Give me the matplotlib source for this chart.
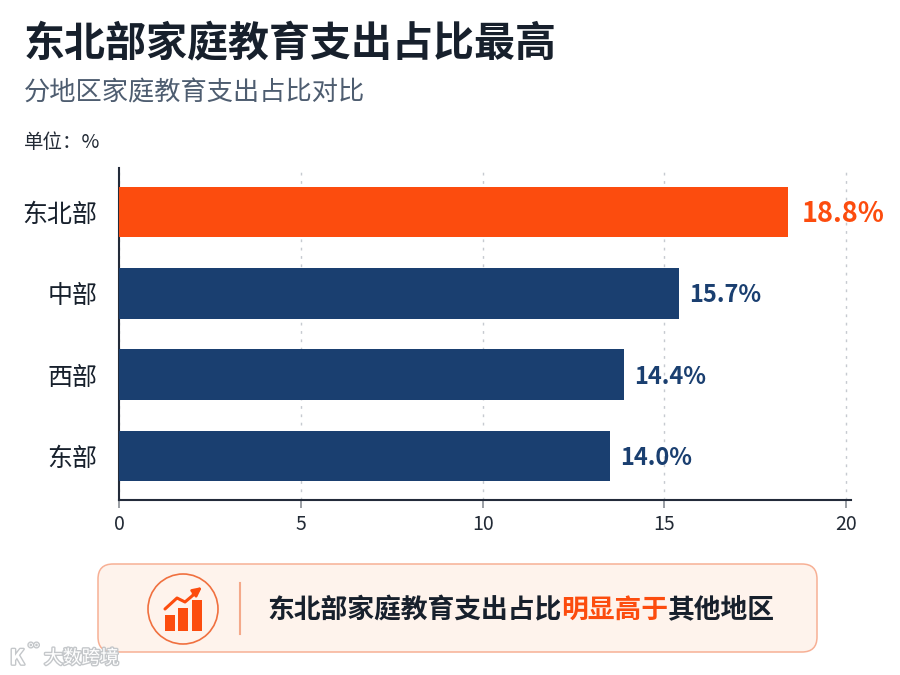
import matplotlib
matplotlib.use("Agg")
import matplotlib.pyplot as plt
from matplotlib.patches import FancyBboxPatch, Circle, Rectangle
import matplotlib.patheffects as pe

plt.rcParams['font.family'] = ['Noto Sans CJK SC', 'DejaVu Sans']

categories = ['东北部', '中部', '西部', '东部']
bar_lengths = [18.4, 15.4, 13.9, 13.5]     # as drawn against the axis
value_labels = ['18.8%', '15.7%', '14.4%', '14.0%']  # as printed, differ from the bars
x_ticks = [0, 5, 10, 15, 20]
icon_bar_heights = [16, 23, 31]

ORANGE = '#fc4c0e'
NAVY = '#1a3f70'
DARK = '#17202c'

fig = plt.figure(figsize=(9, 6.75), dpi=100, facecolor='white')

# overlay in pixel coords for title, callout and watermark
bg = fig.add_axes([0, 0, 1, 1])
bg.set_xlim(0, 900); bg.set_ylim(675, 0); bg.axis('off')

bg.text(24, 43, '东北部家庭教育支出占比最高', fontsize=29.5, fontweight='bold', color=DARK, va='center')
bg.text(24, 93, '分地区家庭教育支出占比对比', fontsize=18.9, color='#4e5d70', va='center')
bg.text(24, 142, '单位：%', fontsize=14, color='#222a35', va='center')

# chart: left 119px, right 851px, top 168px, bottom 500px
ax = fig.add_axes([119/900, 1-500/675, (851-119)/900, (500-168)/675])
ax.patch.set_alpha(0)
y = list(range(len(categories)))
colors = [ORANGE if c == '东北部' else NAVY for c in categories]
ax.barh(y, bar_lengths, height=0.62, color=colors, zorder=3)
ax.set_ylim(3.54, -0.54)
ax.set_xlim(0, 20.13)
ax.set_yticks(y, categories, fontsize=18, color=DARK, fontweight='medium')
ax.set_xticks(x_ticks, [str(v) for v in x_ticks], fontsize=14, color='#222a35')
ax.tick_params(axis='y', length=0, pad=15.5)
ax.tick_params(axis='x', length=6, width=1.2, color='#8a8f96', pad=4)
ax.grid(axis='x', color='#c6cad0', linestyle=(0, (2, 4)), linewidth=1, zorder=0)
ax.set_axisbelow(True)
for side in ('top', 'right'):
    ax.spines[side].set_visible(False)
for side in ('left', 'bottom'):
    ax.spines[side].set_color('#232b3a'); ax.spines[side].set_linewidth(1.5)

for i, (v, lab) in enumerate(zip(bar_lengths, value_labels)):
    first = i == 0
    ax.annotate(lab, (v, i), xytext=(10 if first else 7, -1.5), textcoords='offset points',
                va='center', ha='left', fontsize=19.5 if first else 17, fontweight='bold',
                color=ORANGE if first else NAVY, zorder=4)

# callout
bg.add_patch(FancyBboxPatch((98, 564), 719, 88, boxstyle='round,pad=0,rounding_size=15',
                            fc='#fef3ec', ec='#f7b095', lw=1.1))
bg.add_patch(Circle((183, 609), 35, fc='none', ec='#f0703f', lw=1.2))
bg.plot([240, 240], [583, 634], color='#f4a98a', lw=1.5)
for xb, h in zip([164.5, 178, 192], icon_bar_heights):
    bg.add_patch(Rectangle((xb, 631-h), 10, h, fc=ORANGE, ec='none'))
bg.plot([165, 177, 185, 198], [609, 598, 602, 591], color=ORANGE, lw=2.2, solid_capstyle='round')
bg.annotate('', xy=(202, 587), xytext=(193, 594),
            arrowprops=dict(arrowstyle='-|>', color=ORANGE, lw=2, mutation_scale=13, shrinkA=0, shrinkB=0))

t1 = bg.text(267, 610, '东北部家庭教育支出占比', fontsize=19.3, fontweight='bold', color=DARK, va='center')
t2 = bg.annotate('明显高于', xy=(1, 0), xycoords=t1, va='bottom', fontsize=19.3, fontweight='bold', color=ORANGE)
bg.annotate('其他地区', xy=(1, 0), xycoords=t2, va='bottom', fontsize=19.3, fontweight='bold', color=DARK)

# watermark
halo = [pe.withStroke(linewidth=2, foreground='#c4c7ca')]
bg.text(10, 658, 'K', fontsize=15, color='white', va='center', fontweight='bold', path_effects=halo)
bg.text(28, 650, '°°', fontsize=11, color='white', va='center', path_effects=halo)
bg.text(44, 658, '大数跨境', fontsize=13.5, color='white', va='center', path_effects=halo)

fig.savefig('out.png', dpi=100)
